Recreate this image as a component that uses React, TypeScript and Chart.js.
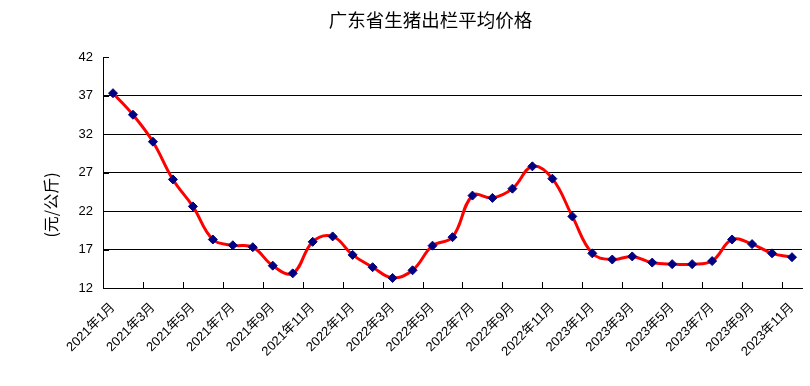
import React, { useEffect, useRef } from "react";
import { Chart, registerables } from "chart.js";

Chart.register(...registerables);

const TITLE = "广东省生猪出栏平均价格";
const Y_TITLE = "(元/公斤)";

const months: string[] = [
  "2021年1月", "2021年2月", "2021年3月", "2021年4月", "2021年5月", "2021年6月",
  "2021年7月", "2021年8月", "2021年9月", "2021年10月", "2021年11月", "2021年12月",
  "2022年1月", "2022年2月", "2022年3月", "2022年4月", "2022年5月", "2022年6月",
  "2022年7月", "2022年8月", "2022年9月", "2022年10月", "2022年11月", "2022年12月",
  "2023年1月", "2023年2月", "2023年3月", "2023年4月", "2023年5月", "2023年6月",
  "2023年7月", "2023年8月", "2023年9月", "2023年10月", "2023年11月",
];

const prices: number[] = [
  37.3, 34.5, 31.0, 26.1, 22.6, 18.3, 17.55, 17.3, 14.9, 13.9, 18.0, 18.7,
  16.3, 14.7, 13.3, 14.3, 17.5, 18.6, 24.0, 23.7, 24.9, 27.8, 26.2, 21.3,
  16.5, 15.7, 16.1, 15.3, 15.1, 15.1, 15.5, 18.3, 17.7, 16.5, 16.0,
];

const Y_MIN = 12;
const Y_MAX = 42;
const Y_STEP = 5;

const LABEL_FONT = "'Liberation Sans', 'Noto Sans CJK SC', sans-serif";
const CJK_FONT = "'Noto Sans CJK SC', sans-serif";

const decorPlugin = {
  id: "decor",
  afterDraw(chart: any) {
    const ctx = chart.ctx as CanvasRenderingContext2D;
    const area = chart.chartArea;
    const xs = chart.scales.x;
    const ys = chart.scales.y;
    ctx.save();
    // inward tick marks on x axis (every 2 categories, at boundaries)
    ctx.strokeStyle = "#000";
    ctx.lineWidth = 1;
    const half = (xs.getPixelForValue(1) - xs.getPixelForValue(0)) / 2;
    ctx.beginPath();
    for (let i = 0; i < months.length; i += 2) {
      const x = Math.round(xs.getPixelForValue(i) - half) + 0.5;
      ctx.moveTo(x, area.bottom);
      ctx.lineTo(x, area.bottom - 6);
    }
    // inward ticks on y axis
    for (let v = Y_MIN; v <= Y_MAX; v += Y_STEP) {
      const y = Math.round(ys.getPixelForValue(v)) + 0.5;
      ctx.moveTo(area.left, y);
      ctx.lineTo(area.left + 6, y);
    }
    ctx.stroke();

    // chart title
    ctx.fillStyle = "#000";
    ctx.font = `18.5px ${CJK_FONT}`;
    ctx.textAlign = "center";
    ctx.textBaseline = "middle";
    ctx.fillText(TITLE, (area.left + area.right) / 2 - 22, 20);

    // y-axis title
    ctx.translate(51, 205);
    ctx.rotate(-Math.PI / 2);
    ctx.font = `16px ${CJK_FONT}`;
    ctx.fillText(Y_TITLE, 0, 0);
    ctx.restore();
  },
};

export default function App() {
  const ref = useRef<HTMLCanvasElement | null>(null);

  useEffect(() => {
    if (!ref.current) return;
    const chart = new Chart(ref.current, {
      type: "line",
      data: {
        labels: months,
        datasets: [
          {
            data: prices,
            borderColor: "#FF0000",
            borderWidth: 3,
            tension: 0.4,
            pointStyle: "rectRot",
            pointRadius: 4.5,
            pointBackgroundColor: "#000080",
            pointBorderColor: "#000080",
            pointBorderWidth: 1,
            fill: false,
          },
        ],
      },
      options: {
        animation: false,
        responsive: false,
        devicePixelRatio: 1,
        layout: { padding: { top: 57, right: 8, bottom: 0, left: 0 } },
        plugins: {
          legend: { display: false },
          title: { display: false },
          tooltip: { enabled: false },
        },
        scales: {
          x: {
            type: "category",
            offset: true,
            grid: { display: true, drawOnChartArea: false, drawTicks: false, offset: true },
            border: { display: true, color: "#000", width: 1 },
            ticks: {
              autoSkip: false,
              maxRotation: 45,
              minRotation: 45,
              padding: 12,
              color: "#000",
              font: { family: LABEL_FONT, size: 13 },
              callback: (_v: any, i: number) => (i % 2 === 0 ? months[i] : ""),
            },
            afterFit: (s: any) => {
              s.height = 98;
              s.paddingLeft = 0;
              s.paddingRight = 0;
            },
          },
          y: {
            min: Y_MIN,
            max: Y_MAX,
            grid: {
              drawTicks: false,
              color: (c: any) =>
                c.tick && (c.tick.value === Y_MIN || c.tick.value === Y_MAX) ? "rgba(0,0,0,0)" : "#000",
              lineWidth: 1,
            },
            border: { display: true, color: "#000", width: 1 },
            ticks: {
              stepSize: Y_STEP,
              padding: 10,
              color: "#000",
              font: { family: LABEL_FONT, size: 13 },
            },
            afterFit: (s: any) => {
              s.width = 103;
              s.paddingTop = 0;
              s.paddingBottom = 0;
            },
          },
        },
      },
      plugins: [decorPlugin],
    });
    return () => chart.destroy();
  }, []);

  return (
    <div style={{ position: "absolute", left: 0, top: 0, width: 810, height: 386, background: "#fff" }}>
      <canvas ref={ref} width={810} height={386} />
    </div>
  );
}
